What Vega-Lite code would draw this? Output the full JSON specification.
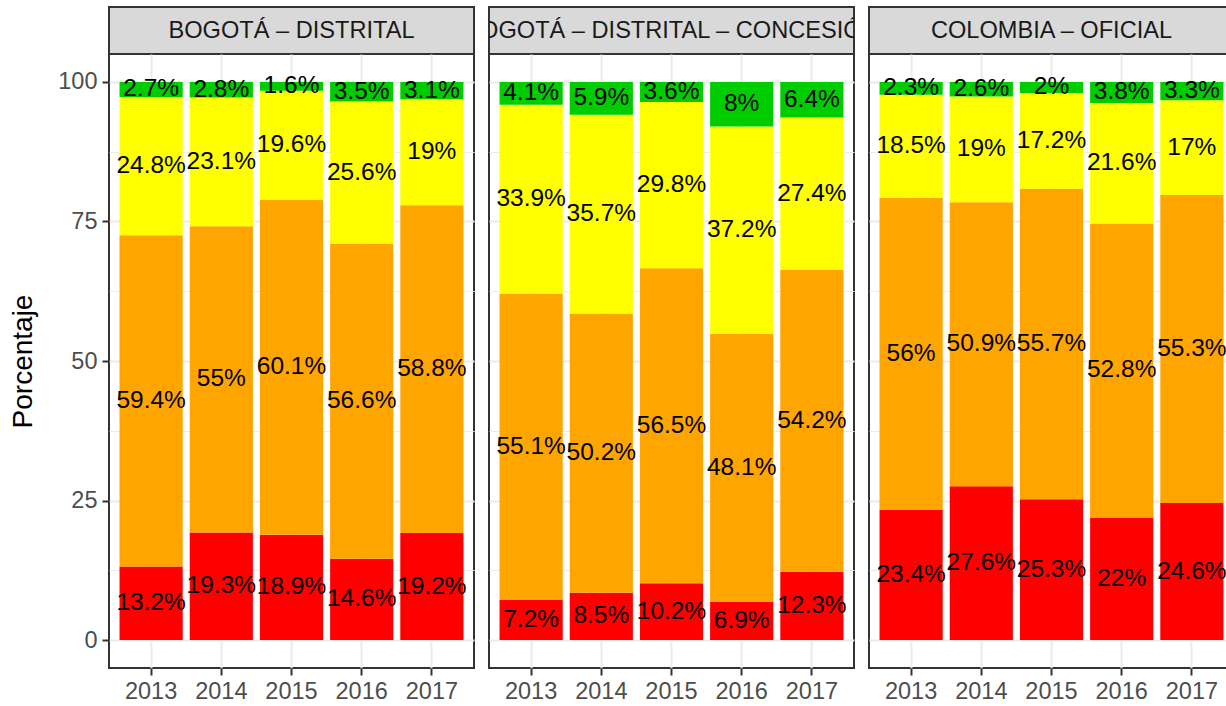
{
  "$schema": "https://vega.github.io/schema/vega-lite/v6.json",
  "background": "white",
  "padding": {"left": 8, "top": 6, "right": 0, "bottom": 5},
  "config": {
    "font": "Liberation Sans"
  },
  "datasets": {
    "d": [
      {"panel": "BOGOTÁ – DISTRITAL", "year": "2013", "nivel": "Insuficiente", "value": 13.2},
      {"panel": "BOGOTÁ – DISTRITAL", "year": "2013", "nivel": "Mínimo", "value": 59.4},
      {"panel": "BOGOTÁ – DISTRITAL", "year": "2013", "nivel": "Satisfactorio", "value": 24.8},
      {"panel": "BOGOTÁ – DISTRITAL", "year": "2013", "nivel": "Avanzado", "value": 2.7},
      {"panel": "BOGOTÁ – DISTRITAL", "year": "2014", "nivel": "Insuficiente", "value": 19.3},
      {"panel": "BOGOTÁ – DISTRITAL", "year": "2014", "nivel": "Mínimo", "value": 55},
      {"panel": "BOGOTÁ – DISTRITAL", "year": "2014", "nivel": "Satisfactorio", "value": 23.1},
      {"panel": "BOGOTÁ – DISTRITAL", "year": "2014", "nivel": "Avanzado", "value": 2.8},
      {"panel": "BOGOTÁ – DISTRITAL", "year": "2015", "nivel": "Insuficiente", "value": 18.9},
      {"panel": "BOGOTÁ – DISTRITAL", "year": "2015", "nivel": "Mínimo", "value": 60.1},
      {"panel": "BOGOTÁ – DISTRITAL", "year": "2015", "nivel": "Satisfactorio", "value": 19.6},
      {"panel": "BOGOTÁ – DISTRITAL", "year": "2015", "nivel": "Avanzado", "value": 1.6},
      {"panel": "BOGOTÁ – DISTRITAL", "year": "2016", "nivel": "Insuficiente", "value": 14.6},
      {"panel": "BOGOTÁ – DISTRITAL", "year": "2016", "nivel": "Mínimo", "value": 56.6},
      {"panel": "BOGOTÁ – DISTRITAL", "year": "2016", "nivel": "Satisfactorio", "value": 25.6},
      {"panel": "BOGOTÁ – DISTRITAL", "year": "2016", "nivel": "Avanzado", "value": 3.5},
      {"panel": "BOGOTÁ – DISTRITAL", "year": "2017", "nivel": "Insuficiente", "value": 19.2},
      {"panel": "BOGOTÁ – DISTRITAL", "year": "2017", "nivel": "Mínimo", "value": 58.8},
      {"panel": "BOGOTÁ – DISTRITAL", "year": "2017", "nivel": "Satisfactorio", "value": 19},
      {"panel": "BOGOTÁ – DISTRITAL", "year": "2017", "nivel": "Avanzado", "value": 3.1},
      {"panel": "BOGOTÁ – DISTRITAL – CONCESIÓN", "year": "2013", "nivel": "Insuficiente", "value": 7.2},
      {"panel": "BOGOTÁ – DISTRITAL – CONCESIÓN", "year": "2013", "nivel": "Mínimo", "value": 55.1},
      {"panel": "BOGOTÁ – DISTRITAL – CONCESIÓN", "year": "2013", "nivel": "Satisfactorio", "value": 33.9},
      {"panel": "BOGOTÁ – DISTRITAL – CONCESIÓN", "year": "2013", "nivel": "Avanzado", "value": 4.1},
      {"panel": "BOGOTÁ – DISTRITAL – CONCESIÓN", "year": "2014", "nivel": "Insuficiente", "value": 8.5},
      {"panel": "BOGOTÁ – DISTRITAL – CONCESIÓN", "year": "2014", "nivel": "Mínimo", "value": 50.2},
      {"panel": "BOGOTÁ – DISTRITAL – CONCESIÓN", "year": "2014", "nivel": "Satisfactorio", "value": 35.7},
      {"panel": "BOGOTÁ – DISTRITAL – CONCESIÓN", "year": "2014", "nivel": "Avanzado", "value": 5.9},
      {"panel": "BOGOTÁ – DISTRITAL – CONCESIÓN", "year": "2015", "nivel": "Insuficiente", "value": 10.2},
      {"panel": "BOGOTÁ – DISTRITAL – CONCESIÓN", "year": "2015", "nivel": "Mínimo", "value": 56.5},
      {"panel": "BOGOTÁ – DISTRITAL – CONCESIÓN", "year": "2015", "nivel": "Satisfactorio", "value": 29.8},
      {"panel": "BOGOTÁ – DISTRITAL – CONCESIÓN", "year": "2015", "nivel": "Avanzado", "value": 3.6},
      {"panel": "BOGOTÁ – DISTRITAL – CONCESIÓN", "year": "2016", "nivel": "Insuficiente", "value": 6.9},
      {"panel": "BOGOTÁ – DISTRITAL – CONCESIÓN", "year": "2016", "nivel": "Mínimo", "value": 48.1},
      {"panel": "BOGOTÁ – DISTRITAL – CONCESIÓN", "year": "2016", "nivel": "Satisfactorio", "value": 37.2},
      {"panel": "BOGOTÁ – DISTRITAL – CONCESIÓN", "year": "2016", "nivel": "Avanzado", "value": 8},
      {"panel": "BOGOTÁ – DISTRITAL – CONCESIÓN", "year": "2017", "nivel": "Insuficiente", "value": 12.3},
      {"panel": "BOGOTÁ – DISTRITAL – CONCESIÓN", "year": "2017", "nivel": "Mínimo", "value": 54.2},
      {"panel": "BOGOTÁ – DISTRITAL – CONCESIÓN", "year": "2017", "nivel": "Satisfactorio", "value": 27.4},
      {"panel": "BOGOTÁ – DISTRITAL – CONCESIÓN", "year": "2017", "nivel": "Avanzado", "value": 6.4},
      {"panel": "COLOMBIA – OFICIAL", "year": "2013", "nivel": "Insuficiente", "value": 23.4},
      {"panel": "COLOMBIA – OFICIAL", "year": "2013", "nivel": "Mínimo", "value": 56},
      {"panel": "COLOMBIA – OFICIAL", "year": "2013", "nivel": "Satisfactorio", "value": 18.5},
      {"panel": "COLOMBIA – OFICIAL", "year": "2013", "nivel": "Avanzado", "value": 2.3},
      {"panel": "COLOMBIA – OFICIAL", "year": "2014", "nivel": "Insuficiente", "value": 27.6},
      {"panel": "COLOMBIA – OFICIAL", "year": "2014", "nivel": "Mínimo", "value": 50.9},
      {"panel": "COLOMBIA – OFICIAL", "year": "2014", "nivel": "Satisfactorio", "value": 19},
      {"panel": "COLOMBIA – OFICIAL", "year": "2014", "nivel": "Avanzado", "value": 2.6},
      {"panel": "COLOMBIA – OFICIAL", "year": "2015", "nivel": "Insuficiente", "value": 25.3},
      {"panel": "COLOMBIA – OFICIAL", "year": "2015", "nivel": "Mínimo", "value": 55.7},
      {"panel": "COLOMBIA – OFICIAL", "year": "2015", "nivel": "Satisfactorio", "value": 17.2},
      {"panel": "COLOMBIA – OFICIAL", "year": "2015", "nivel": "Avanzado", "value": 2},
      {"panel": "COLOMBIA – OFICIAL", "year": "2016", "nivel": "Insuficiente", "value": 22},
      {"panel": "COLOMBIA – OFICIAL", "year": "2016", "nivel": "Mínimo", "value": 52.8},
      {"panel": "COLOMBIA – OFICIAL", "year": "2016", "nivel": "Satisfactorio", "value": 21.6},
      {"panel": "COLOMBIA – OFICIAL", "year": "2016", "nivel": "Avanzado", "value": 3.8},
      {"panel": "COLOMBIA – OFICIAL", "year": "2017", "nivel": "Insuficiente", "value": 24.6},
      {"panel": "COLOMBIA – OFICIAL", "year": "2017", "nivel": "Mínimo", "value": 55.3},
      {"panel": "COLOMBIA – OFICIAL", "year": "2017", "nivel": "Satisfactorio", "value": 17},
      {"panel": "COLOMBIA – OFICIAL", "year": "2017", "nivel": "Avanzado", "value": 3.3}
    ]
  },
  "spacing": 13,
  "hconcat": [
    {
      "bounds": "flush",
      "spacing": 0,
      "vconcat": [
        {
          "width": 365, "height": 47,
          "data": {"values": [{"panel": "BOGOTÁ – DISTRITAL"}]},
          "view": {"fill": "#D9D9D9", "stroke": "#333333", "strokeWidth": 2},
          "mark": {"type": "text", "fontSize": 23.6, "color": "#1A1A1A", "clip": true, "baseline": "middle", "align": "center"},
          "encoding": {"text": {"field": "panel"}}
        },
        {
          "width": 365, "height": 614,
          "data": {"name": "d"},
          "view": {"fill": "white", "stroke": "#333333", "strokeWidth": 2},
          "transform": [
            {"filter": "datum.panel === 'BOGOTÁ – DISTRITAL'"},
            {"calculate": "indexof(['Insuficiente','Mínimo','Satisfactorio','Avanzado'], datum.nivel)", "as": "ord"},
            {"stack": "value", "groupby": ["panel", "year"], "sort": [{"field": "ord", "order": "ascending"}], "offset": "normalize", "as": ["s0", "s1"]},
            {"calculate": "datum.s0*100", "as": "y0"},
            {"calculate": "datum.s1*100", "as": "y1"},
            {"calculate": "(datum.y0+datum.y1)/2", "as": "mid"},
            {"calculate": "datum.value + '%'", "as": "lbl"}
          ],
          "encoding": {
            "x": {"field": "year", "type": "ordinal", "scale": {"paddingInner": 0.1, "paddingOuter": 0.15},
              "axis": {"title": null, "labelAngle": 0, "labelFontSize": 23.5, "labelColor": "#4D4D4D", "tickColor": "#333333", "tickSize": 7, "tickWidth": 2, "labelPadding": 4, "grid": true, "gridColor": "#EBEBEB", "gridWidth": 2, "domain": false}}
          },
          "layer": [
            {
              "mark": {"type": "bar"},
              "encoding": {
                "y": {"field": "y0", "type": "quantitative", "scale": {"domain": [-5, 105], "nice": false, "zero": false},
                  "axis": {"title": "Porcentaje", "titleFontSize": 28, "titleFontWeight": "normal", "titleColor": "black", "titlePadding": 20,
                    "values": [0, 12.5, 25, 37.5, 50, 62.5, 75, 87.5, 100],
                    "labelExpr": "datum.value % 25 === 0 ? datum.label : ''",
                    "labelFontSize": 23.5, "labelColor": "#4D4D4D", "labelPadding": 5,
                    "tickColor": "#333333", "tickSize": 7, "tickWidth": 2,
                    "tickOpacity": {"condition": {"test": "datum.value % 25 === 0", "value": 1}, "value": 0},
                    "grid": true, "gridColor": "#EBEBEB",
                    "gridWidth": {"condition": {"test": "datum.value % 25 === 0", "value": 2}, "value": 1},
                    "domain": false}},
                "y2": {"field": "y1"},
                "color": {"field": "nivel", "type": "nominal", "scale": {"domain": ["Insuficiente", "Mínimo", "Satisfactorio", "Avanzado"], "range": ["#FF0000", "#FFA500", "#FFFF00", "#00CD00"]}, "legend": null}
              }
            },
            {
              "mark": {"type": "text", "fontSize": 24.5, "color": "black", "baseline": "middle"},
              "encoding": {
                "y": {"field": "mid", "type": "quantitative"},
                "text": {"field": "lbl"}
              }
            }
          ]
        }
      ]
    },
    {
      "bounds": "flush",
      "spacing": 0,
      "vconcat": [
        {
          "width": 365, "height": 47,
          "data": {"values": [{"panel": "BOGOTÁ – DISTRITAL – CONCESIÓN"}]},
          "view": {"fill": "#D9D9D9", "stroke": "#333333", "strokeWidth": 2},
          "mark": {"type": "text", "fontSize": 23.6, "color": "#1A1A1A", "clip": true, "baseline": "middle", "align": "center"},
          "encoding": {"text": {"field": "panel"}}
        },
        {
          "width": 365, "height": 614,
          "data": {"name": "d"},
          "view": {"fill": "white", "stroke": "#333333", "strokeWidth": 2},
          "transform": [
            {"filter": "datum.panel === 'BOGOTÁ – DISTRITAL – CONCESIÓN'"},
            {"calculate": "indexof(['Insuficiente','Mínimo','Satisfactorio','Avanzado'], datum.nivel)", "as": "ord"},
            {"stack": "value", "groupby": ["panel", "year"], "sort": [{"field": "ord", "order": "ascending"}], "offset": "normalize", "as": ["s0", "s1"]},
            {"calculate": "datum.s0*100", "as": "y0"},
            {"calculate": "datum.s1*100", "as": "y1"},
            {"calculate": "(datum.y0+datum.y1)/2", "as": "mid"},
            {"calculate": "datum.value + '%'", "as": "lbl"}
          ],
          "encoding": {
            "x": {"field": "year", "type": "ordinal", "scale": {"paddingInner": 0.1, "paddingOuter": 0.15},
              "axis": {"title": null, "labelAngle": 0, "labelFontSize": 23.5, "labelColor": "#4D4D4D", "tickColor": "#333333", "tickSize": 7, "tickWidth": 2, "labelPadding": 4, "grid": true, "gridColor": "#EBEBEB", "gridWidth": 2, "domain": false}}
          },
          "layer": [
            {
              "mark": {"type": "bar"},
              "encoding": {
                "y": {"field": "y0", "type": "quantitative", "scale": {"domain": [-5, 105], "nice": false, "zero": false},
                  "axis": {"title": null, "labels": false, "ticks": false,
                    "values": [0, 12.5, 25, 37.5, 50, 62.5, 75, 87.5, 100],
                    "grid": true, "gridColor": "#EBEBEB",
                    "gridWidth": {"condition": {"test": "datum.value % 25 === 0", "value": 2}, "value": 1},
                    "domain": false}},
                "y2": {"field": "y1"},
                "color": {"field": "nivel", "type": "nominal", "scale": {"domain": ["Insuficiente", "Mínimo", "Satisfactorio", "Avanzado"], "range": ["#FF0000", "#FFA500", "#FFFF00", "#00CD00"]}, "legend": null}
              }
            },
            {
              "mark": {"type": "text", "fontSize": 24.5, "color": "black", "baseline": "middle"},
              "encoding": {
                "y": {"field": "mid", "type": "quantitative"},
                "text": {"field": "lbl"}
              }
            }
          ]
        }
      ]
    },
    {
      "bounds": "flush",
      "spacing": 0,
      "vconcat": [
        {
          "width": 365, "height": 47,
          "data": {"values": [{"panel": "COLOMBIA – OFICIAL"}]},
          "view": {"fill": "#D9D9D9", "stroke": "#333333", "strokeWidth": 2},
          "mark": {"type": "text", "fontSize": 23.6, "color": "#1A1A1A", "clip": true, "baseline": "middle", "align": "center"},
          "encoding": {"text": {"field": "panel"}}
        },
        {
          "width": 365, "height": 614,
          "data": {"name": "d"},
          "view": {"fill": "white", "stroke": "#333333", "strokeWidth": 2},
          "transform": [
            {"filter": "datum.panel === 'COLOMBIA – OFICIAL'"},
            {"calculate": "indexof(['Insuficiente','Mínimo','Satisfactorio','Avanzado'], datum.nivel)", "as": "ord"},
            {"stack": "value", "groupby": ["panel", "year"], "sort": [{"field": "ord", "order": "ascending"}], "offset": "normalize", "as": ["s0", "s1"]},
            {"calculate": "datum.s0*100", "as": "y0"},
            {"calculate": "datum.s1*100", "as": "y1"},
            {"calculate": "(datum.y0+datum.y1)/2", "as": "mid"},
            {"calculate": "datum.value + '%'", "as": "lbl"}
          ],
          "encoding": {
            "x": {"field": "year", "type": "ordinal", "scale": {"paddingInner": 0.1, "paddingOuter": 0.15},
              "axis": {"title": null, "labelAngle": 0, "labelFontSize": 23.5, "labelColor": "#4D4D4D", "tickColor": "#333333", "tickSize": 7, "tickWidth": 2, "labelPadding": 4, "grid": true, "gridColor": "#EBEBEB", "gridWidth": 2, "domain": false}}
          },
          "layer": [
            {
              "mark": {"type": "bar"},
              "encoding": {
                "y": {"field": "y0", "type": "quantitative", "scale": {"domain": [-5, 105], "nice": false, "zero": false},
                  "axis": {"title": null, "labels": false, "ticks": false,
                    "values": [0, 12.5, 25, 37.5, 50, 62.5, 75, 87.5, 100],
                    "grid": true, "gridColor": "#EBEBEB",
                    "gridWidth": {"condition": {"test": "datum.value % 25 === 0", "value": 2}, "value": 1},
                    "domain": false}},
                "y2": {"field": "y1"},
                "color": {"field": "nivel", "type": "nominal", "scale": {"domain": ["Insuficiente", "Mínimo", "Satisfactorio", "Avanzado"], "range": ["#FF0000", "#FFA500", "#FFFF00", "#00CD00"]}, "legend": null}
              }
            },
            {
              "mark": {"type": "text", "fontSize": 24.5, "color": "black", "baseline": "middle"},
              "encoding": {
                "y": {"field": "mid", "type": "quantitative"},
                "text": {"field": "lbl"}
              }
            }
          ]
        }
      ]
    }
  ]
}
